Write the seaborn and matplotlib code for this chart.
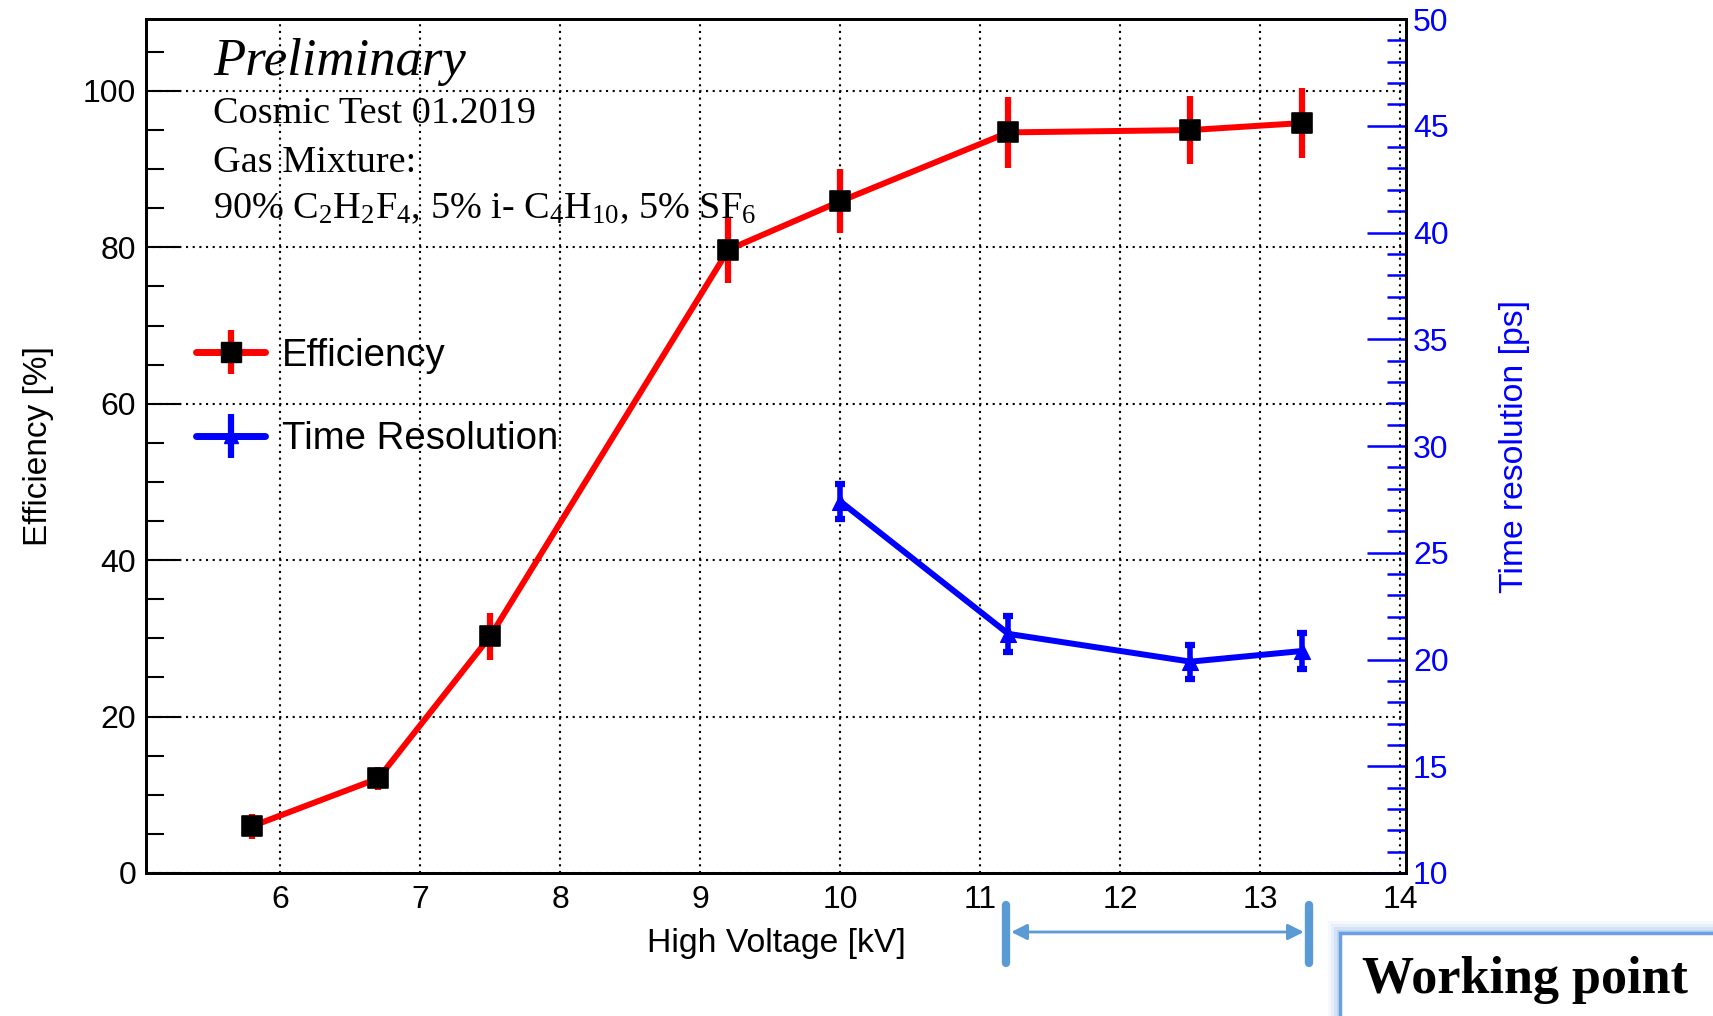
import numpy as np
import pandas as pd
import matplotlib
matplotlib.use("Agg")
import matplotlib.pyplot as plt
import seaborn as sns
from matplotlib.lines import Line2D
from matplotlib.patches import Rectangle
from matplotlib.legend_handler import HandlerTuple
from matplotlib.ticker import MultipleLocator
import matplotlib.transforms as mtransforms

# ---------------- data ----------------
hv_eff = [5.8, 6.7, 7.5, 9.2, 10.0, 11.2, 12.5, 13.3]
efficiency = [6.0, 12.1, 30.3, 79.7, 85.9, 94.7, 95.0, 95.9]
eff_err = [1.6, 1.5, 3.0, 4.2, 4.1, 4.5, 4.4, 4.5]

hv_time = [10.0, 11.2, 12.5, 13.3]
time_res = [27.4, 21.2, 19.9, 20.4]
time_err = [0.8, 0.85, 0.8, 0.85]

x_ticks = [6, 7, 8, 9, 10, 11, 12, 13, 14]
eff_ticks = [0, 20, 40, 60, 80, 100]
time_ticks = [10, 15, 20, 25, 30, 35, 40, 45, 50]
working_range = [11.18, 13.35]

text_lines = ["Preliminary", "Cosmic Test 01.2019", "Gas Mixture:",
              r"90% C$_2$H$_2$F$_4$, 5% i- C$_4$H$_{10}$, 5% SF$_6$"]

# ---------------- style ----------------
sns.set_theme(style="white")
plt.rcParams['font.family'] = ['Liberation Sans', 'DejaVu Sans']
plt.rcParams['mathtext.fontset'] = 'custom'
plt.rcParams['mathtext.rm'] = 'Liberation Serif'
plt.rcParams['mathtext.it'] = 'Liberation Serif:italic'
plt.rcParams['mathtext.bf'] = 'Liberation Serif:bold'
plt.rcParams['text.color'] = 'black'
plt.rcParams['axes.labelcolor'] = 'black'
plt.rcParams['xtick.color'] = 'black'
plt.rcParams['ytick.color'] = 'black'

df_eff = pd.DataFrame({"hv": hv_eff, "eff": efficiency, "err": eff_err})
df_time = pd.DataFrame({"hv": hv_time, "res": time_res, "err": time_err})

fig = plt.figure(figsize=(17.13, 10.16), dpi=100)
ax = fig.add_axes([146 / 1713, 143 / 1016, 1260 / 1713, 854 / 1016])
ax2 = ax.twinx()

RED = "#ff0000"
BLUE = "#0000ff"

# efficiency
sns.lineplot(data=df_eff, x="hv", y="eff", ax=ax, color=RED, lw=4.3, zorder=2,
             legend=False)
ax.errorbar(df_eff["hv"], df_eff["eff"], yerr=df_eff["err"], fmt="none",
            ecolor=RED, elinewidth=4.5, capsize=0, zorder=3)
sns.scatterplot(data=df_eff, x="hv", y="eff", ax=ax, marker="s", s=215,
                color="black", edgecolor="black", zorder=4, legend=False)

# time resolution
sns.lineplot(data=df_time, x="hv", y="res", ax=ax2, color=BLUE, lw=4.3,
             zorder=2, legend=False)
ax2.errorbar(df_time["hv"], df_time["res"], yerr=df_time["err"], fmt="none",
             ecolor=BLUE, elinewidth=4, capsize=3.5, capthick=4.5, zorder=3)
sns.scatterplot(data=df_time, x="hv", y="res", ax=ax2, marker="^", s=130,
                color=BLUE, edgecolor=BLUE, zorder=4, legend=False)

# axes limits / ticks
ax.set_xlim(5.04, 14.04)
ax.set_ylim(0, 109.2)
ax2.set_ylim(10, 50)
ax.set_xticks(x_ticks)
ax.set_yticks(eff_ticks)
ax2.set_yticks(time_ticks)
ax.xaxis.set_minor_locator(MultipleLocator(0.2))
ax.yaxis.set_minor_locator(MultipleLocator(5))
ax2.yaxis.set_minor_locator(MultipleLocator(1))

ax.tick_params(axis="x", which="major", direction="in", length=18, width=1.5,
               labelsize=23, pad=9, colors="black", top=False)
ax.tick_params(axis="x", which="minor", direction="in", length=10, width=1.5,
               top=False, colors="black")
ax.tick_params(axis="y", which="major", direction="in", length=25, width=1.5,
               labelsize=23, pad=7, colors="black", right=False)
ax.tick_params(axis="y", which="minor", direction="in", length=13, width=1.5,
               right=False, colors="black")
ax2.tick_params(axis="y", which="major", direction="in", length=28, width=1.8,
                labelsize=23, pad=5, colors=BLUE, left=False)
ax2.tick_params(axis="y", which="minor", direction="in", length=14, width=1.8,
                left=False, colors=BLUE)

for sp in ax.spines.values():
    sp.set_linewidth(2)
    sp.set_color("black")
for sp in ax2.spines.values():
    sp.set_linewidth(2)
    sp.set_color("black")

ax.grid(True, which="major", color="black", linestyle=(0, (1, 2.2)), lw=1.5)
ax2.grid(False)

ax.set_xlabel("High Voltage [kV]", fontsize=24.3, labelpad=9, color="black")
ax.set_ylabel("Efficiency [%]", fontsize=24, labelpad=21, color="black")
ax2.set_ylabel("Time resolution [ps]", fontsize=24.3, color=BLUE, labelpad=36,
               rotation=90)
ax2.yaxis.set_label_position("right")

# texts
tx = (213 - 146) / 1260
ax.text(tx, (873 - 75) / 854, text_lines[0], transform=ax.transAxes,
        family="Liberation Serif", style="italic", fontsize=38, va="baseline",
        color="black")
for line, yb in zip(text_lines[1:], [123, 172, 218]):
    ax.text(tx, (873 - yb) / 854, line, transform=ax.transAxes,
            family="Liberation Serif", fontsize=27.5, va="baseline",
            color="black")

# legend
h_eff = (Line2D([], [], color=RED, lw=5),
         Line2D([], [], color=RED, marker="|", ms=32, mew=4.5, ls="none"),
         Line2D([], [], color="black", marker="s", ms=14.5, ls="none"))
h_time = (Line2D([], [], color=BLUE, lw=5),
          Line2D([], [], color=BLUE, marker="|", ms=32, mew=4.5, ls="none"),
          Line2D([], [], color=BLUE, marker="^", ms=10, ls="none"))
leg = ax.legend([h_eff, h_time], ["Efficiency", "Time Resolution"],
                handler_map={tuple: HandlerTuple(ndivide=1, pad=0)},
                loc="upper left", bbox_to_anchor=((196 - 146) / 1260, 0.627),
                frameon=False, fontsize=27.6, handlelength=1.8,
                handletextpad=0.45, labelspacing=1.25, borderpad=0,
                borderaxespad=0)
for t in leg.get_texts():
    t.set_color("black")

# working point annotation (below the axes)
blend = mtransforms.blended_transform_factory(ax.transData, fig.transFigure)
WP = "#5b9bd5"
for xv in working_range:
    fig.add_artist(Line2D([xv, xv], [1 - 905 / 1016, 1 - 963 / 1016],
                          transform=blend, color=WP, lw=6))
ax.annotate("", xy=(working_range[1], 1 - 932 / 1016), xycoords=blend,
            xytext=(working_range[0], 1 - 932 / 1016), textcoords=blend,
            arrowprops=dict(arrowstyle="<|-|>", color=WP, lw=2,
                            shrinkA=4, shrinkB=4, mutation_scale=24),
            annotation_clip=False)

# glow box
x0 = 1340 / 1713
y0 = 1 - 933 / 1016
for i, (pad, a) in enumerate([(12, 0.10), (9, 0.16), (6, 0.25), (3, 0.4)]):
    fig.add_artist(Rectangle((x0 - pad / 1713, -0.5), 1.0, y0 + 0.5 + pad / 1016,
                             transform=fig.transFigure, facecolor="#9dc3ee",
                             edgecolor="none", alpha=a, zorder=0))
fig.add_artist(Rectangle((x0, -0.5), 1.0, y0 + 0.5, transform=fig.transFigure,
                         facecolor="white", edgecolor="#6b9fe0", lw=2.5,
                         zorder=1))
fig.text(1362 / 1713, 1 - 993 / 1016, "Working point",
         family="Liberation Serif", weight="bold", fontsize=37.5,
         va="baseline", zorder=2, color="black")

fig.savefig("out.png", dpi=100)
